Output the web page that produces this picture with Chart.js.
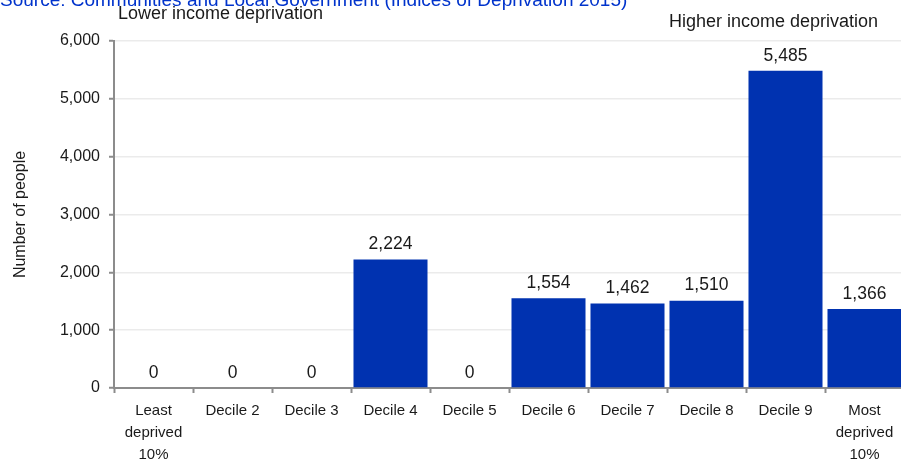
<!DOCTYPE html>
<html><head><meta charset="utf-8">
<script src="https://cdn.jsdelivr.net/npm/chart.js@4/dist/chart.umd.min.js"></script>
<style>
html,body{margin:0;padding:0;overflow:hidden;background:#fff;width:901px;height:466px}
#wrap{position:relative;width:904px;height:466px}
</style>
</head><body><div id="wrap"><canvas id="c"></canvas></div>
<script>
const categories = [["Least","deprived","10%"],"Decile 2","Decile 3","Decile 4","Decile 5","Decile 6","Decile 7","Decile 8","Decile 9",["Most","deprived","10%"]];
const people = [0,0,0,2224,0,1554,1462,1510,5485,1366];
const yMin = 0, yMax = 6000, yStep = 1000;
const sourceText = "Source: Communities and Local Government (Indices of Deprivation 2015)";
const leftNote = "Lower income deprivation";
const rightNote = "Higher income deprivation";
const yTitle = "Number of people";

const FONT = 'Arial, "Liberation Sans", sans-serif';
const fmt = v => Number(v).toLocaleString('en-US');

const valueLabels = {
  id: 'valueLabels',
  afterDatasetsDraw(chart) {
    const ctx = chart.ctx;
    const meta = chart.getDatasetMeta(0);
    ctx.save();
    ctx.font = '17.5px ' + FONT;
    ctx.fillStyle = '#1a1a1a';
    ctx.textAlign = 'center';
    ctx.textBaseline = 'middle';
    meta.data.forEach((el, i) => {
      ctx.fillText(fmt(people[i]), el.x, el.y - 15);
    });
    ctx.restore();
  }
};

const notes = {
  id: 'notes',
  afterDraw(chart) {
    const ctx = chart.ctx;
    ctx.save();
    ctx.textBaseline = 'alphabetic';
    ctx.font = '19px ' + FONT;
    ctx.fillStyle = '#0033cc';
    ctx.textAlign = 'left';
    ctx.fillText(sourceText, 0, 5.5);
    ctx.font = '18px ' + FONT;
    ctx.fillStyle = '#1a1a1a';
    ctx.fillText(leftNote, 118, 18.5);
    ctx.textAlign = 'right';
    ctx.fillText(rightNote, 878, 27);
    ctx.restore();
  }
};

new Chart(document.getElementById('c'), {
  type: 'bar',
  data: {
    labels: categories,
    datasets: [{
      data: people,
      backgroundColor: '#0032b0',
      borderWidth: 0,
      barPercentage: 0.937,
      categoryPercentage: 1
    }]
  },
  options: {
    responsive: true,
    maintainAspectRatio: false,
    animation: false,
    events: [],
    layout: { padding: { top: 41, left: 0, right: 0, bottom: 0 } },
    plugins: { legend: { display: false }, tooltip: { enabled: false }, title: { display: false } },
    scales: {
      x: {
        afterFit: s => { s.height = 78; },
        grid: { offset: true, drawOnChartArea: false, drawTicks: true, tickLength: 5, tickColor: '#8c8c8c', tickWidth: 2 },
        border: { color: '#8c8c8c', width: 2 },
        ticks: { font: { family: FONT, size: 15 , lineHeight: 1.45 }, color: '#1a1a1a', padding: 7, maxRotation: 0, autoSkip: false }
      },
      y: {
        min: yMin, max: yMax,
        afterFit: s => { s.width = 114; },
        grid: { color: '#ebebeb', lineWidth: 1.5, tickColor: '#8c8c8c', tickLength: 5, tickWidth: 2 },
        border: { color: '#8c8c8c', width: 2 },
        ticks: { stepSize: yStep, font: { family: FONT, size: 16 }, color: '#1a1a1a', padding: 9, callback: v => fmt(v) },
        title: { display: true, text: yTitle, font: { family: FONT, size: 16 }, color: '#1a1a1a', padding: { top: 11.4, bottom: 0 } }
      }
    }
  },
  plugins: [valueLabels, notes]
});
</script>
</body></html>
